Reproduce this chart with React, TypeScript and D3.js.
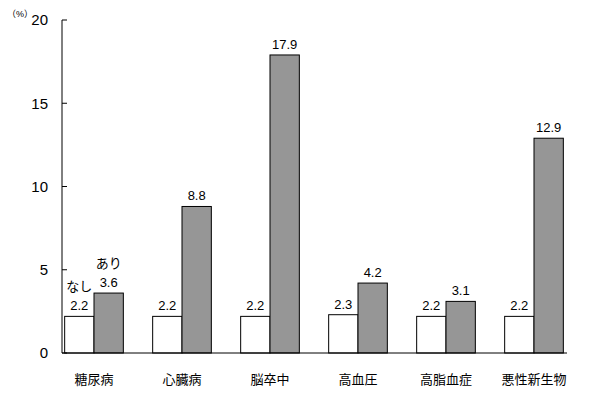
import React from "react";
import * as d3 from "d3";

const width = 591;
const height = 397;

// カテゴリと値
const categories = ["糖尿病", "心臓病", "脳卒中", "高血圧", "高脂血症", "悪性新生物"];
const nashi = [2.2, 2.2, 2.2, 2.3, 2.2, 2.2];
const ari = [3.6, 8.8, 17.9, 4.2, 3.1, 12.9];
const yTicks = [0, 5, 10, 15, 20];
const seriesNames = ["なし", "あり"];

const font = "'Liberation Sans', 'Noto Sans CJK JP', sans-serif";

export default function App() {
  const x = d3.scaleBand<string>().domain(categories).range([50, 578]);
  const y = d3.scaleLinear().domain([0, 20]).range([353, 20]);
  const barW = x.bandwidth() / 3;
  const axisX = 62;
  const axisEnd = 567;

  const groups = categories.map((c, i) => {
    const cx = (x(c) as number) + x.bandwidth() / 2;
    const vals = [nashi[i], ari[i]];
    return (
      <g key={c}>
        {vals.map((v, j) => {
          const bx = cx - barW + j * barW;
          return (
            <g key={j}>
              <rect
                x={bx}
                y={y(v)}
                width={barW}
                height={y(0) - y(v)}
                fill={j === 0 ? "#ffffff" : "#969696"}
                stroke="#000"
                strokeWidth={1}
              />
              <text
                x={bx + barW / 2}
                y={y(v) - 6}
                textAnchor="middle"
                fontSize={13}
                fill="#000"
              >
                {v.toFixed(1)}
              </text>
              {i === 0 && (
                <text
                  x={bx + barW / 2}
                  y={y(v) - 25}
                  textAnchor="middle"
                  fontSize={13}
                  fill="#000"
                >
                  {seriesNames[j]}
                </text>
              )}
            </g>
          );
        })}
        <text x={cx} y={384} textAnchor="middle" fontSize={13} fill="#000">
          {c}
        </text>
      </g>
    );
  });

  return (
    <svg
      width={width}
      height={height}
      style={{ position: "absolute", left: 0, top: 0, background: "#fff" }}
      fontFamily={font}
    >
      {groups}
      {/* y軸 */}
      <line x1={axisX} x2={axisX} y1={y(20)} y2={y(0)} stroke="#000" />
      {yTicks.map((t) => (
        <g key={t}>
          <line x1={axisX} x2={axisX + 5} y1={y(t)} y2={y(t)} stroke="#000" />
          <text
            x={48}
            y={y(t)}
            dy="0.36em"
            textAnchor="end"
            fontSize={15}
            fill="#000"
          >
            {t}
          </text>
        </g>
      ))}
      {/* x軸 */}
      <line x1={axisX} x2={axisEnd} y1={y(0)} y2={y(0)} stroke="#000" />
      <text x={7} y={17} fontSize={9} fill="#000">
        （%）
      </text>
    </svg>
  );
}
